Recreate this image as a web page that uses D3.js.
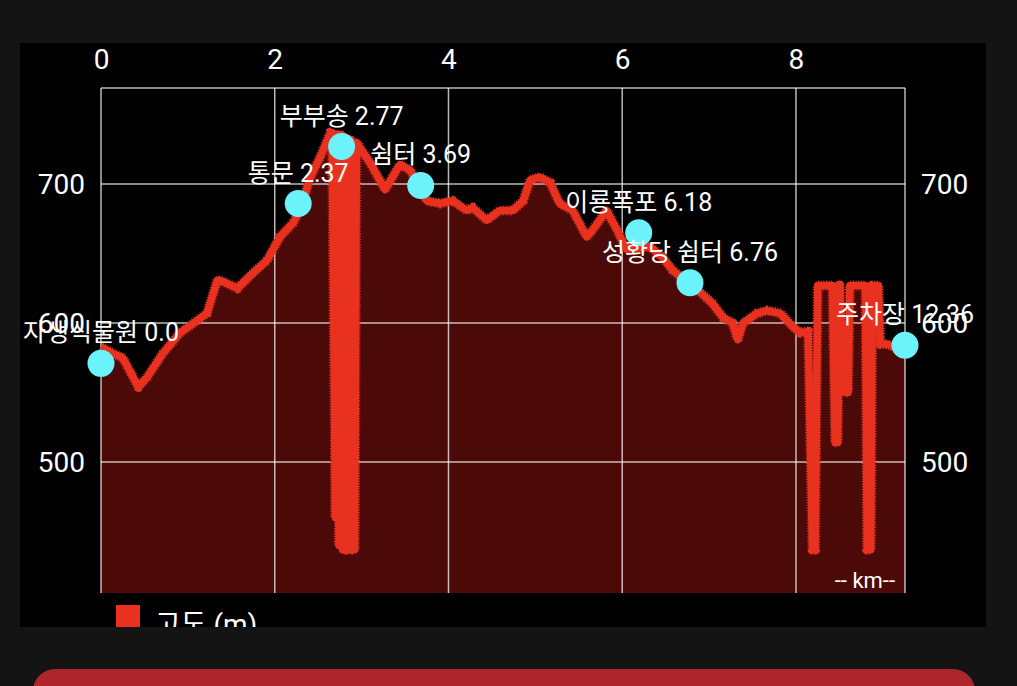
<!DOCTYPE html>
<html>
<head>
<meta charset="utf-8">
<script src="https://cdn.jsdelivr.net/npm/d3@7"></script>
<style>
  html, body { margin: 0; padding: 0; background: #141414; }
  svg { display: block; }
  text { font-family: Roboto, "Noto Sans CJK KR", sans-serif; fill: #ffffff; }
</style>
</head>
<body>
<svg id="chart" width="1017" height="686"></svg>
<script>
// ---- data ----
const distKm = [0.00, 0.14, 0.25, 0.43, 0.53, 0.71, 0.91, 1.11, 1.22, 1.34, 1.40, 1.57, 1.75, 1.91, 2.06, 2.21, 2.29, 2.41, 2.52, 2.64, 2.66,
  2.70, 2.72, 2.74, 2.76, 2.78, 2.80, 2.82, 2.84, 2.86, 2.88, 2.90, 2.92, 2.94,
  3.10, 3.27, 3.44, 3.56, 3.75, 3.90, 4.05, 4.21, 4.28, 4.44, 4.59, 4.74, 4.86, 4.94, 5.05, 5.17, 5.28, 5.43, 5.59, 5.66, 5.82, 5.94,
  6.05, 6.32, 6.47, 6.58, 6.90, 7.04, 7.16, 7.27, 7.33, 7.39, 7.55, 7.67, 7.82, 7.97, 8.05, 8.14,
  8.19, 8.22, 8.25, 8.42, 8.45, 8.48, 8.50, 8.57, 8.60, 8.62, 8.80, 8.82, 8.86, 8.88, 8.95, 8.97, 9.05, 9.15, 9.255];
const elevation = [583, 578, 575, 554, 561, 578, 593, 602, 607, 631, 630, 625, 636, 645, 662, 672, 681, 705, 719, 737, 737,
  460, 736, 440, 735, 437, 734, 437, 733, 437, 732, 437, 437, 730,
  715, 696, 714, 710, 688, 686, 688, 681, 683, 674, 681, 681, 688, 703, 705, 701, 686, 681, 662, 667, 681, 667,
  653, 655, 647, 638, 622, 614, 604, 600, 588, 600, 607, 609, 607, 597, 593, 594,
  437, 437, 627, 627, 514, 514, 627, 550, 550, 627, 627, 437, 437, 627, 627, 585, 585, 582, 584];

const waypointNames = ["자생식물원 0.0", "통문 2.37", "부부송 2.77", "쉼터 3.69", "이룡폭포 6.18", "성황당 쉼터 6.76", "주차장 12.36"];
const waypointKm = [0.00, 2.27, 2.77, 3.68, 6.19, 6.78, 9.255];
const waypointElev = [571, 686, 727, 699, 665, 629, 584];

const xTicks = [0, 2, 4, 6, 8];
const yTicks = [500, 600, 700];
const legendLabel = "고도 (m)";
const unitLabel = "-- km--";

// ---- layout ----
const svg = d3.select("#chart");
const plot = { left: 101, right: 905, top: 88, bottom: 593 };
const panel = { x: 20, y: 43, w: 966, h: 584 };

const x = d3.scaleLinear().domain([0, 9.255]).range([plot.left, plot.right]);
const y = d3.scaleLinear().domain([405.8, 769.1]).range([plot.bottom, plot.top]);

const data = distKm.map((d, i) => ({ km: d, e: elevation[i] }));

// page background
svg.append("rect").attr("width", 1017).attr("height", 686).attr("fill", "#141414");

// bottom red button
svg.append("rect").attr("x", 33).attr("y", 669).attr("width", 942).attr("height", 60)
  .attr("rx", 22).attr("fill", "#ad262c");

// panel
svg.append("defs").append("clipPath").attr("id", "panelClip")
  .append("rect").attr("x", panel.x).attr("y", panel.y).attr("width", panel.w).attr("height", panel.h);
svg.append("rect").attr("x", panel.x).attr("y", panel.y).attr("width", panel.w).attr("height", panel.h).attr("fill", "#000");

const g = svg.append("g").attr("clip-path", "url(#panelClip)");

// area
const area = d3.area().x(d => x(d.km)).y0(plot.bottom).y1(d => y(d.e));
g.append("path").datum(data).attr("d", area).attr("fill", "#4b0a07");

// grid
const gridColor = "rgba(255,255,255,0.72)";
g.append("g").selectAll("line.v").data(xTicks.concat([9.255])).join("line")
  .attr("x1", d => x(d)).attr("x2", d => x(d)).attr("y1", plot.top).attr("y2", plot.bottom)
  .attr("stroke", gridColor).attr("stroke-width", 1.5);
g.append("g").selectAll("line.h").data(yTicks.concat([769.1])).join("line")
  .attr("x1", plot.left).attr("x2", plot.right).attr("y1", d => y(d)).attr("y2", d => y(d))
  .attr("stroke", gridColor).attr("stroke-width", 1.5);

// line (fine furry edge + solid core)
const line = d3.line().x(d => x(d.km)).y(d => y(d.e));
g.append("path").datum(data).attr("d", line).attr("fill", "none")
  .attr("stroke", "#e8321f").attr("stroke-width", 10).attr("stroke-dasharray", "1,1.6")
  .attr("stroke-linejoin", "round");
g.append("path").datum(data).attr("d", line).attr("fill", "none")
  .attr("stroke", "#e8321f").attr("stroke-width", 7.5).attr("stroke-linejoin", "round");

// markers
const wp = waypointNames.map((n, i) => ({ name: n, km: waypointKm[i], e: waypointElev[i] }));
g.append("g").selectAll("circle").data(wp).join("circle")
  .attr("cx", d => x(d.km)).attr("cy", d => y(d.e)).attr("r", 13.5).attr("fill", "#6cf2fb");

// axes
const axTop = g.append("g").attr("transform", `translate(0,${plot.top})`)
  .call(d3.axisTop(x).tickValues(xTicks).tickSize(0).tickPadding(19).tickFormat(d3.format("d")));
const axLeft = g.append("g").attr("transform", `translate(${plot.left},0)`)
  .call(d3.axisLeft(y).tickValues(yTicks).tickSize(0).tickPadding(16).tickFormat(d3.format("d")));
const axRight = g.append("g").attr("transform", `translate(${plot.right},0)`)
  .call(d3.axisRight(y).tickValues(yTicks).tickSize(0).tickPadding(16).tickFormat(d3.format("d")));
[axTop, axLeft, axRight].forEach(a => {
  a.select(".domain").remove();
  a.selectAll("text").attr("fill", "#ffffff").style("font-size", "28px")
    .style("font-family", "Roboto, 'Noto Sans CJK KR', sans-serif");
});

// waypoint labels
g.append("g").selectAll("text").data(wp).join("text")
  .attr("x", d => x(d.km)).attr("y", d => y(d.e) - 22)
  .attr("text-anchor", "middle").style("font-size", "25px").text(d => d.name);

// unit label
g.append("text").attr("x", 895).attr("y", 588).attr("text-anchor", "end")
  .style("font-size", "22px").text(unitLabel);

// legend
g.append("rect").attr("x", 116).attr("y", 605).attr("width", 24).attr("height", 24).attr("fill", "#e8321f");
g.append("text").attr("x", 155).attr("y", 634).style("font-size", "28px").text(legendLabel);
</script>
</body>
</html>
